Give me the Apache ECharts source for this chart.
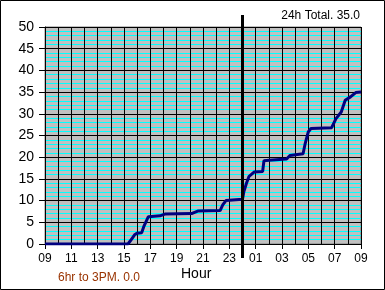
<!DOCTYPE html>
<html><head><meta charset="utf-8">
<script src="https://cdn.jsdelivr.net/npm/echarts@6/dist/echarts.min.js"></script>
<style>html,body{margin:0;padding:0;background:#fff}#c{width:385px;height:290px}</style>
</head><body><div id="c"></div>
<script>
// hours elapsed since 09:00
var hours = [0,6.3,6.5,6.83,7.0,7.34,7.5,7.85,8.0,8.73,9.1,11.13,11.6,13.3,13.5,13.74,15.0,15.1,15.3,15.5,15.9,16.53,16.63,17.0,18.35,18.6,19.6,19.75,19.99,20.2,21.77,22.1,22.5,22.8,23.2,23.6,24];
var rain  = [0,0,0.8,2.2,2.5,2.6,4.0,6.3,6.4,6.5,6.9,7.0,7.6,7.7,9.0,10.0,10.3,12.0,14.0,15.6,16.6,16.7,19.2,19.3,19.6,20.4,20.8,23.0,25.8,26.6,26.8,28.9,30.4,33.1,33.9,34.9,35.0];
var startHour = 9;
var midnight = 15;
var titleText = '24h Total. 35.0';
var subText = '6hr to 3PM. 0.0';
var axisName = 'Hour';

var data = hours.map(function(h,i){return [h, rain[i]];});
var chart = echarts.init(document.getElementById('c'), null, {renderer:'canvas'});
var font = 'Liberation Sans, Arial, sans-serif';
chart.setOption({
  animation:false,
  backgroundColor:'#fff',
  grid:{left:45,right:24,top:27,bottom:46,show:true,backgroundColor:'#c0c0c0',borderColor:'#808080',borderWidth:1},
  xAxis:{type:'value',min:0,max:24,interval:2,
    axisLine:{show:true,onZero:false,lineStyle:{color:'#000',width:1}},
    axisTick:{show:true,length:5,lineStyle:{color:'#000'}},
    axisLabel:{margin:9,color:'#000',fontSize:12,fontFamily:font,formatter:function(v){var h=(startHour+v)%24;return (h<10?'0':'')+h;}},
    splitLine:{show:true,lineStyle:{color:'#000',width:1}},
    minorTick:{show:false,splitNumber:2},
    minorSplitLine:{show:true,lineStyle:{color:'#000',width:1}}
  },
  yAxis:{type:'value',min:0,max:50,interval:5,
    axisLine:{show:true,lineStyle:{color:'#000',width:1}},
    axisTick:{show:true,length:6,lineStyle:{color:'#000'}},
    axisLabel:{margin:11,color:'#000',fontSize:14,fontFamily:font},
    splitLine:{show:true,lineStyle:{color:'#000',width:1}},
    minorTick:{show:false,splitNumber:5},
    minorSplitLine:{show:true,lineStyle:{color:'#00ffff',width:1}}
  },
  series:[{type:'line',data:data,showSymbol:false,smooth:false,lineStyle:{color:'#000080',width:3},z:5}]
});
var mx = chart.convertToPixel({xAxisIndex:0}, midnight);
chart.setOption({graphic:[
  {type:'rect',shape:{x:0.5,y:0.5,width:384,height:289},style:{fill:null,stroke:'#000',lineWidth:1},silent:true},
  {type:'line',shape:{x1:mx,y1:15,x2:mx,y2:258},style:{stroke:'#000',lineWidth:3},z:10},
  {type:'text',right:25,top:10,style:{text:titleText,font:'12px '+font,fill:'#000'}},
  {type:'text',left:58,top:272,style:{text:subText,font:'12px '+font,fill:'#993300'}},
  {type:'text',left:181,top:267,style:{text:axisName,font:'14px '+font,fill:'#000'}}
]});
</script></body></html>
